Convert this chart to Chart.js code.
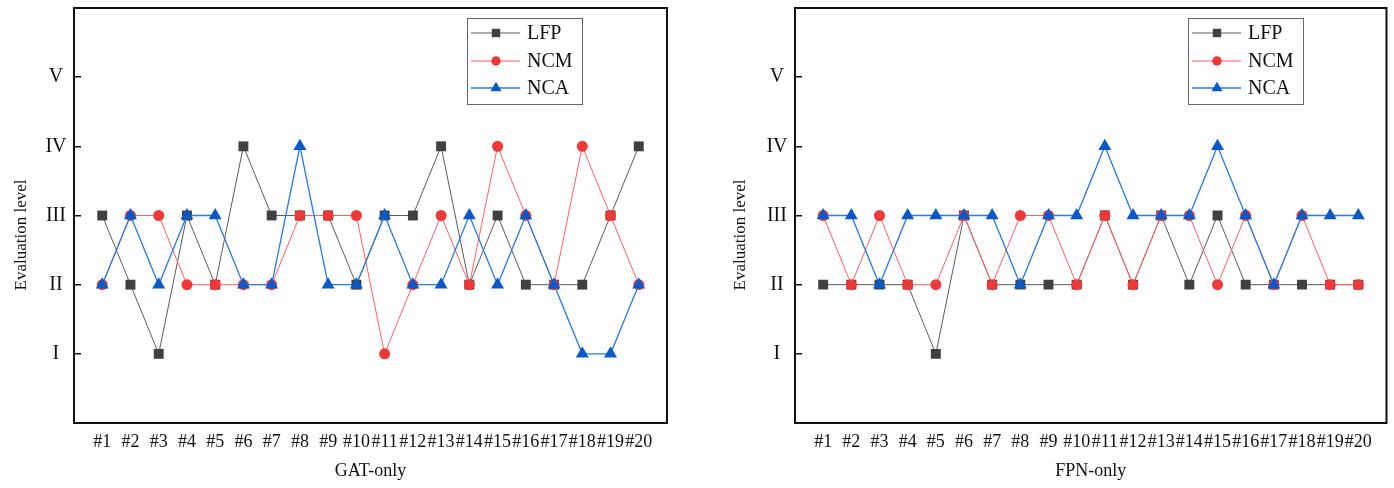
<!DOCTYPE html>
<html>
<head>
<meta charset="utf-8">
<script src="https://cdn.jsdelivr.net/npm/chart.js@4/dist/chart.umd.min.js"></script>
<style>
  body { margin: 0; background: #fff; }
  canvas { position: absolute; top: 0; }
  #gat { left: 0; }
  #fpn { left: 697px; }
</style>
</head>
<body>
<canvas id="gat" width="697" height="488"></canvas>
<canvas id="fpn" width="697" height="488"></canvas>
<script>
// data (1 = I ... 5 = V)
const categories = ['#1', '#2', '#3', '#4', '#5', '#6', '#7', '#8', '#9', '#10',
  '#11', '#12', '#13', '#14', '#15', '#16', '#17', '#18', '#19', '#20'];
const levels = ['I', 'II', 'III', 'IV', 'V'];
const seriesNames = ['LFP', 'NCM', 'NCA'];
const yTitle = 'Evaluation level';

const gatLFP = [3, 2, 1, 3, 2, 4, 3, 3, 3, 2, 3, 3, 4, 2, 3, 2, 2, 2, 3, 4];
const gatNCM = [2, 3, 3, 2, 2, 2, 2, 3, 3, 3, 1, 2, 3, 2, 4, 3, 2, 4, 3, 2];
const gatNCA = [2, 3, 2, 3, 3, 2, 2, 4, 2, 2, 3, 2, 2, 3, 2, 3, 2, 1, 1, 2];

const fpnLFP = [2, 2, 2, 2, 1, 3, 2, 2, 2, 2, 3, 2, 3, 2, 3, 2, 2, 2, 2, 2];
const fpnNCM = [3, 2, 3, 2, 2, 3, 2, 3, 3, 2, 3, 2, 3, 3, 2, 3, 2, 3, 2, 2];
const fpnNCA = [3, 3, 2, 3, 3, 3, 3, 2, 3, 3, 4, 3, 3, 3, 4, 3, 2, 3, 3, 3];

const FONT = "'Liberation Serif', 'Times New Roman', serif";

const styles = [
  { line: '#5a5a5a', point: '#404040', pointStyle: 'rect', radius: 7, width: 1 },
  { line: '#ff6060', point: '#ef3838', pointStyle: 'circle', radius: 5.5, width: 1 },
  { line: '#2a78e0', point: '#0a58c8', pointStyle: 'triangle', radius: 7.5, width: 1.3 }
];

function toPoints(vals) {
  return vals.map((v, i) => ({ x: i + 1, y: v }));
}

// frame around the plot area + the y title (sits a bit below the middle in the original)
const framePlugin = {
  id: 'frame',
  afterDraw(chart, args, opts) {
    const { ctx, chartArea: a } = chart;
    ctx.save();
    ctx.strokeStyle = '#111';
    ctx.lineWidth = 2;
    ctx.strokeRect(a.left, a.top, a.right - a.left, a.bottom - a.top);

    ctx.translate(opts.titleX, 235);
    ctx.rotate(-Math.PI / 2);
    ctx.fillStyle = '#111';
    ctx.font = '17px ' + FONT;
    ctx.textAlign = 'center';
    ctx.textBaseline = 'middle';
    ctx.fillText(yTitle, 0, 0);
    ctx.restore();
  }
};

// boxed legend inside the plot, like the original
const legendPlugin = {
  id: 'boxLegend',
  afterDraw(chart) {
    const { ctx, chartArea: a } = chart;
    const bx = a.left + 393, by = a.top + 10, bw = 115, bh = 86;
    ctx.save();
    ctx.fillStyle = '#fff';
    ctx.fillRect(bx, by, bw, bh);
    ctx.strokeStyle = '#666';
    ctx.lineWidth = 1;
    ctx.strokeRect(bx + 0.5, by + 0.5, bw, bh);
    const rows = [15, 43, 70];
    chart.data.datasets.forEach((ds, i) => {
      const y = by + rows[i];
      ctx.strokeStyle = ds.borderColor;
      ctx.lineWidth = ds.borderWidth;
      ctx.beginPath();
      ctx.moveTo(bx + 4, y);
      ctx.lineTo(bx + 53, y);
      ctx.stroke();
      ctx.fillStyle = ds.pointBackgroundColor;
      ctx.strokeStyle = ds.pointBackgroundColor;
      Chart.helpers.drawPoint(ctx, {
        pointStyle: ds.pointStyle,
        radius: ds.pointRadius * 0.85,
        rotation: 0,
        borderWidth: 0
      }, bx + 29, y);
      ctx.fillStyle = '#111';
      ctx.font = '20px ' + FONT;
      ctx.textBaseline = 'middle';
      ctx.textAlign = 'left';
      ctx.fillText(seriesNames[i], bx + 60, y + 1);
    });
    ctx.restore();
  }
};

function noPad(s) {
  s.paddingTop = 0;
  s.paddingBottom = 0;
  s.paddingLeft = 0;
  s.paddingRight = 0;
}

function makeChart(id, title, series, axisWidth, rightPad, titleX) {
  const datasets = series.map((vals, i) => ({
    label: seriesNames[i],
    data: toPoints(vals),
    borderColor: styles[i].line,
    borderWidth: styles[i].width,
    pointBackgroundColor: styles[i].point,
    pointBorderColor: styles[i].point,
    pointBorderWidth: 0,
    pointStyle: styles[i].pointStyle,
    pointRadius: styles[i].radius,
    pointHoverRadius: styles[i].radius,
    tension: 0,
    order: 3 - i   // NCA on top, LFP at the bottom
  }));

  return new Chart(document.getElementById(id), {
    type: 'line',
    data: { datasets },
    options: {
      responsive: false,
      animation: false,
      devicePixelRatio: 1,
      layout: { padding: { left: 0, right: rightPad, top: 8, bottom: 0 } },
      plugins: {
        legend: { display: false },
        tooltip: { enabled: false },
        frame: { titleX: titleX }
      },
      scales: {
        x: {
          type: 'linear',
          min: 0,
          max: 21,
          afterBuildTicks: s => { s.ticks = categories.map((c, i) => ({ value: i + 1 })); },
          afterFit: s => { s.height = 65; noPad(s); },
          grid: { display: false, drawTicks: false },
          border: { display: false },
          ticks: {
            autoSkip: false,
            maxRotation: 0,
            padding: 8,
            color: '#111',
            font: { family: FONT, size: 18 },
            callback: v => categories[v - 1]
          },
          title: {
            display: true,
            text: title,
            color: '#111',
            font: { family: FONT, size: 18 },
            padding: { top: 0, bottom: 6 }
          }
        },
        y: {
          min: 0,
          max: 6,
          afterBuildTicks: s => { s.ticks = levels.map((l, i) => ({ value: i + 1 })); },
          afterFit: s => { s.width = axisWidth; noPad(s); },
          grid: {
            drawOnChartArea: false,
            drawTicks: true,
            tickLength: -7,
            color: '#111',
            lineWidth: 1.5
          },
          border: { display: false },
          ticks: {
            padding: 14.5,
            crossAlign: 'center',
            color: '#111',
            font: { family: FONT, size: 20 },
            callback: v => levels[v - 1]
          },
          title: { display: false }
        }
      }
    },
    plugins: [framePlugin, legendPlugin]
  });
}

makeChart('gat', 'GAT-only', [gatLFP, gatNCM, gatNCA], 74, 30, 22);
makeChart('fpn', 'FPN-only', [fpnLFP, fpnNCM, fpnNCA], 98, 7, 44);
</script>
</body>
</html>
